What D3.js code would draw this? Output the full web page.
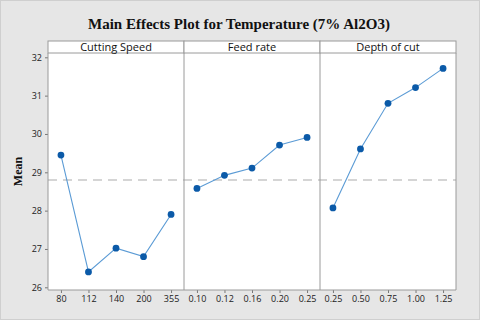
<!DOCTYPE html>
<html>
<head>
<meta charset="utf-8">
<script src="https://cdn.jsdelivr.net/npm/d3@7"></script>
<style>
  body { margin: 0; background: #fff; }
  svg { display: block; }
</style>
</head>
<body>
<svg id="chart" width="480" height="320"></svg>
<script>
// Panel names and their factor levels
const factors = ["Cutting Speed", "Feed rate", "Depth of cut"];
const speedLevels = ["80", "112", "140", "200", "355"];
const feedLevels = ["0.10", "0.12", "0.16", "0.20", "0.25"];
const depthLevels = ["0.25", "0.50", "0.75", "1.00", "1.25"];

// Mean temperature per level
const speedMeans = [29.45, 26.4, 27.02, 26.8, 27.9];
const feedMeans = [28.58, 28.92, 29.11, 29.71, 29.91];
const depthMeans = [28.07, 29.61, 30.8, 31.21, 31.71];

const grandMean = 28.8;
const yTicks = [26, 27, 28, 29, 30, 31, 32];

const panels = [
  { name: factors[0], levels: speedLevels, means: speedMeans },
  { name: factors[1], levels: feedLevels, means: feedMeans },
  { name: factors[2], levels: depthLevels, means: depthMeans }
];

const svg = d3.select('#chart');
const W = 480, H = 320;
const plot = { left: 48, right: 456, top: 53, bottom: 290 };
const stripTop = 41;
const panelW = (plot.right - plot.left) / panels.length;

// background + frame
svg.append('rect')
  .attr('x', 0).attr('y', 0).attr('width', W).attr('height', H)
  .attr('fill', '#e6e6e6');
svg.append('rect')
  .attr('x', 0.5).attr('y', 0.5).attr('width', W - 1).attr('height', H - 1)
  .attr('fill', 'none').attr('stroke', '#cfcfcf');

// title
svg.append('text')
  .attr('x', 239).attr('y', 29)
  .attr('text-anchor', 'middle')
  .attr('font-family', '"Liberation Serif", "Times New Roman", serif')
  .attr('font-weight', 'bold')
  .attr('font-size', 15)
  .attr('fill', '#111')
  .text('Main Effects Plot for Temperature (7% Al2O3)');

// y axis label
svg.append('text')
  .attr('transform', 'translate(22,' + ((plot.top + plot.bottom) / 2 + 0) + ') rotate(-90)')
  .attr('text-anchor', 'middle')
  .attr('font-family', '"Liberation Serif", "Times New Roman", serif')
  .attr('font-weight', 'bold')
  .attr('font-size', 12)
  .attr('fill', '#111')
  .text('Mean');

const y = d3.scaleLinear()
  .domain([26, 32])
  .range([287.3, 57.3]);

// plot area
svg.append('rect')
  .attr('x', plot.left).attr('y', plot.top)
  .attr('width', plot.right - plot.left).attr('height', plot.bottom - plot.top)
  .attr('fill', '#fff');

// y axis
const yAxis = d3.axisLeft(y).tickValues(yTicks).tickFormat(d3.format('d'))
  .tickSize(3).tickPadding(3);
const yg = svg.append('g')
  .attr('transform', 'translate(' + plot.left + ',0)')
  .call(yAxis);
yg.select('.domain').remove();
yg.selectAll('line').attr('stroke', '#777');
yg.selectAll('text')
  .attr('font-family', '"Open Sans", "DejaVu Sans", sans-serif')
  .attr('font-size', 9)
  .attr('fill', '#222');

// grand mean reference line
svg.append('line')
  .attr('x1', plot.left).attr('x2', plot.right)
  .attr('y1', y(grandMean)).attr('y2', y(grandMean))
  .attr('stroke', '#c8c8c8')
  .attr('stroke-width', 1.5)
  .attr('stroke-dasharray', '9,6');

panels.forEach((p, i) => {
  const x0 = plot.left + i * panelW;
  const x = d3.scalePoint()
    .domain(p.levels)
    .range([x0, x0 + panelW])
    .padding(0.47);

  // strip header
  svg.append('rect')
    .attr('x', x0).attr('y', stripTop)
    .attr('width', panelW).attr('height', plot.top - stripTop)
    .attr('fill', '#fff')
    .attr('stroke', '#9a9a9a');
  svg.append('text')
    .attr('x', x0 + panelW / 2).attr('y', plot.top - 2.5)
    .attr('text-anchor', 'middle')
    .attr('font-family', '"Open Sans", "DejaVu Sans", sans-serif')
    .attr('font-size', 11)
    .attr('fill', '#111')
    .text(p.name);

  // x axis
  const xAxis = d3.axisBottom(x).tickSize(3).tickPadding(3);
  const xg = svg.append('g')
    .attr('transform', 'translate(0,' + plot.bottom + ')')
    .call(xAxis);
  xg.select('.domain').remove();
  xg.selectAll('line').attr('stroke', '#777');
  xg.selectAll('text')
    .attr('font-family', '"Open Sans", "DejaVu Sans", sans-serif')
    .attr('font-size', 9)
    .attr('fill', '#222');

  const pts = p.levels.map((l, j) => [x(l), y(p.means[j])]);

  svg.append('path')
    .attr('d', d3.line()(pts))
    .attr('fill', 'none')
    .attr('stroke', '#5b9bd5')
    .attr('stroke-width', 1.1);

  svg.selectAll(null)
    .data(pts)
    .enter()
    .append('circle')
    .attr('cx', d => d[0])
    .attr('cy', d => d[1])
    .attr('r', 3.4)
    .attr('fill', '#0b5aa8');
});

// panel borders
for (let i = 0; i <= panels.length; i++) {
  const xx = plot.left + i * panelW;
  svg.append('line')
    .attr('x1', xx).attr('x2', xx)
    .attr('y1', plot.top).attr('y2', plot.bottom)
    .attr('stroke', '#9a9a9a');
}
svg.append('line')
  .attr('x1', plot.left).attr('x2', plot.right)
  .attr('y1', plot.bottom).attr('y2', plot.bottom)
  .attr('stroke', '#9a9a9a');
</script>
</body>
</html>
